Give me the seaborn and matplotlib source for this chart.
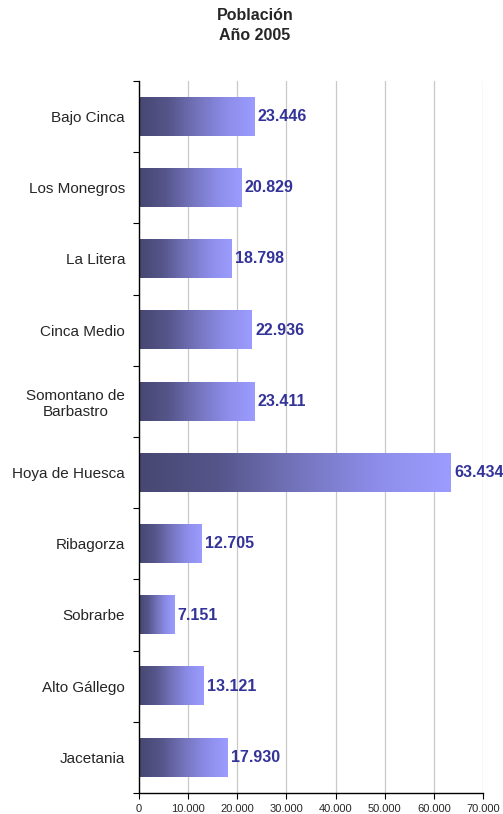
import numpy as np
import pandas as pd
import matplotlib
matplotlib.use("Agg")
import matplotlib.pyplot as plt
from matplotlib.colors import LinearSegmentedColormap
import seaborn as sns

comarcas = ["Bajo Cinca", "Los Monegros", "La Litera", "Cinca Medio",
            "Somontano de\nBarbastro", "Hoya de Huesca", "Ribagorza",
            "Sobrarbe", "Alto Gállego", "Jacetania"]
poblacion = [23446, 20829, 18798, 22936, 23411, 63434, 12705, 7151, 13121, 17930]
etiquetas = ["23.446", "20.829", "18.798", "22.936", "23.411", "63.434",
             "12.705", "7.151", "13.121", "17.930"]
xticks = [0, 10000, 20000, 30000, 40000, 50000, 60000, 70000]
xtick_labels = ["0", "10.000", "20.000", "30.000", "40.000", "50.000", "60.000", "70.000"]

sns.set_style("white")
plt.rcParams["font.family"] = ["Liberation Sans", "DejaVu Sans"]

df = pd.DataFrame({"comarca": comarcas, "poblacion": poblacion})

fig = plt.figure(figsize=(5.03, 8.14), dpi=100)
ax = fig.add_axes([139 / 503, 1 - 793 / 814, (483 - 139) / 503, (793 - 81) / 814])

sns.barplot(data=df, x="poblacion", y="comarca", orient="h", width=0.54,
            color="#9999ff", ax=ax, zorder=2)

# gradient fill
cmap = LinearSegmentedColormap.from_list(
    "grad", ["#474772", "#55558a", "#7373bb", "#8c8ce8", "#9c9cff"])
grad = np.linspace(0, 1, 256).reshape(1, -1)
for bar in ax.patches:
    x0, y0 = bar.get_x(), bar.get_y()
    w, h = bar.get_width(), bar.get_height()
    bar.set_facecolor("none")
    bar.set_edgecolor("none")
    ax.imshow(grad, cmap=cmap, aspect="auto", extent=[x0, x0 + w, y0 + h, y0],
              zorder=2, interpolation="bilinear")

ax.set_xlim(0, 70000)
ax.set_ylim(len(comarcas) - 0.5, -0.5)

for i, (v, lab) in enumerate(zip(poblacion, etiquetas)):
    ax.text(v + 700, i, lab, va="center", ha="left", color="#333399",
            fontsize=11.5, fontweight="bold", zorder=3, clip_on=False)

ax.set_xticks(xticks)
ax.set_xticklabels(xtick_labels, fontsize=8)
ax.xaxis.grid(True, color="#c8c8c8", linewidth=0.9, zorder=0)
ax.set_axisbelow(True)
ax.yaxis.grid(False)

ax.set_yticks(range(len(comarcas)))
ax.set_yticklabels(comarcas, fontsize=11, multialignment="center")
ax.tick_params(axis="y", which="major", left=True, length=0, pad=10)
ax.set_yticks(np.arange(-0.5, len(comarcas), 1), minor=True)
ax.tick_params(axis="y", which="minor", left=True, length=4, width=0.8,
               direction="out", color="black")
ax.tick_params(axis="x", which="major", bottom=True, length=4, width=0.8,
               direction="out", color="black", pad=4)

ax.set_xlabel("")
ax.set_ylabel("")
for s in ["top", "right"]:
    ax.spines[s].set_visible(False)
for s in ["left", "bottom"]:
    ax.spines[s].set_color("black")
    ax.spines[s].set_linewidth(1.0)

fig.text(0.507, 1 - 16 / 814, "Población", ha="center", va="center",
         fontsize=11.5, fontweight="bold")
fig.text(0.507, 1 - 36 / 814, "Año 2005", ha="center", va="center",
         fontsize=11.5, fontweight="bold")

fig.savefig("out.png", dpi=100)
